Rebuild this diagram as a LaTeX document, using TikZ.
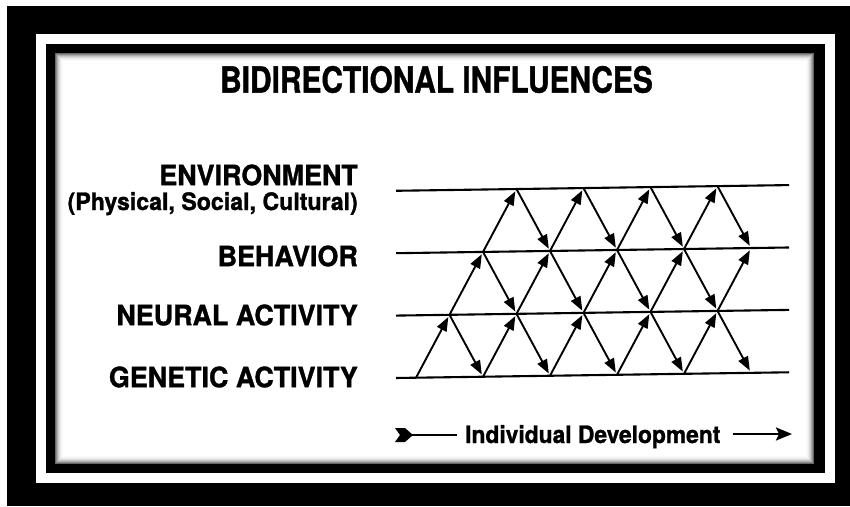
\documentclass[tikz,border=0pt]{standalone}
\usepackage{graphicx}
\usepackage{fontspec}
\setsansfont{TeX Gyre Heros}[BoldFeatures={FakeBold=1.2}]
\usetikzlibrary{arrows.meta}
\begin{document}
\begin{tikzpicture}[x=1pt,y=-1pt,
  lbl/.style={inner sep=0pt, font=\sffamily\bfseries\fontsize{28}{28}\selectfont, anchor=east},
  sublbl/.style={inner sep=0pt, font=\sffamily\bfseries\fontsize{24}{24}\selectfont, anchor=base east},
  ttl/.style={inner sep=0pt, font=\sffamily\bfseries\fontsize{36}{36}\selectfont},
  devlbl/.style={inner sep=0pt, font=\sffamily\bfseries\fontsize{24}{24}\selectfont, anchor=base west},
  rowline/.style={line width=2.1pt},
  arr/.style={line width=1.9pt, -{Triangle[length=14pt,width=10.5pt]}, shorten >=2.5pt},
  devline/.style={line width=2.4pt}]
\useasboundingbox (0,0) rectangle (850,506);
% frames
\fill[white] (0,0) rectangle (850,506);
\fill[black] (7,6) rectangle (850,506);
\fill[white] (36,34) rectangle (835,483);
\fill[black] (46,44) rectangle (825,473);
\fill[white] (55,53) rectangle (814,464);
\foreach \i/\c in {0/60,1/45,2/32,3/22,4/14,5/8,6/4,7/2}
  \draw[black!\c, line width=1pt] (55.5+\i,53.5+\i) rectangle (813.5-\i,463.5-\i);

% title
\node[ttl] (title) at (436.5,79.5) {\scalebox{0.83}[1]{BIDIRECTIONAL INFLUENCES}};

% labels
\node[lbl] (env) at (358,175) {\scalebox{0.96}[1]{ENVIRONMENT}};
\node[sublbl] (envsub) at (358,210) {\scalebox{0.965}[1]{(Physical, Social, Cultural)}};
\node[lbl] (beh) at (358,256) {\scalebox{0.96}[1]{BEHAVIOR}};
\node[lbl] (neu) at (358,315) {\scalebox{0.96}[1]{NEURAL ACTIVITY}};
\node[lbl] (gen) at (358,377) {\scalebox{0.96}[1]{GENETIC ACTIVITY}};

% lattice
\begin{scope}[xshift=395pt, yslant=0.0145]
  \foreach \k/\y in {0/378,1/315.6,2/253.2,3/190.8}{
    \coordinate (rL\k) at (1,\y);
    \coordinate (rR\k) at (394,\y);
    \foreach \j in {0,...,5}
      \coordinate (v\k-\j) at ({21+33.5*\k+67*\j},\y);
  }
  \foreach \k in {0,...,3} \draw[rowline] (rL\k) -- (rR\k);
  % upward arrows
  \foreach \j in {0,...,4} \draw[arr] (v0-\j) -- (v1-\j);
  \foreach \j in {0,...,4} \draw[arr] (v1-\j) -- (v2-\j);
  \foreach \j in {0,...,3} \draw[arr] (v2-\j) -- (v3-\j);
  % downward arrows
  \foreach \j [evaluate=\j as \n using int(\j+1)] in {0,...,3} \draw[arr] (v3-\j) -- (v2-\n);
  \foreach \j [evaluate=\j as \n using int(\j+1)] in {0,...,3} \draw[arr] (v2-\j) -- (v1-\n);
  \foreach \j [evaluate=\j as \n using int(\j+1)] in {0,...,4} \draw[arr] (v1-\j) -- (v0-\n);
\end{scope}

% individual development
\node[devlbl] (dev) at (465,443) {\scalebox{0.95}[1]{Individual Development}};
\coordinate (devL) at (408,435);
\coordinate (devR) at (792,434);
\fill (395,428) -- (405,428) -- (413,435) -- (405,442) -- (395,442) -- (400,435) -- cycle;
\draw[devline] (devL) -- ([xshift=-8pt]dev.west |- devL);
\draw[devline, -{Stealth[length=16pt,width=13pt,inset=3pt]}] ([xshift=12pt]dev.east |- devR) -- (devR);
\end{tikzpicture}
\end{document}
